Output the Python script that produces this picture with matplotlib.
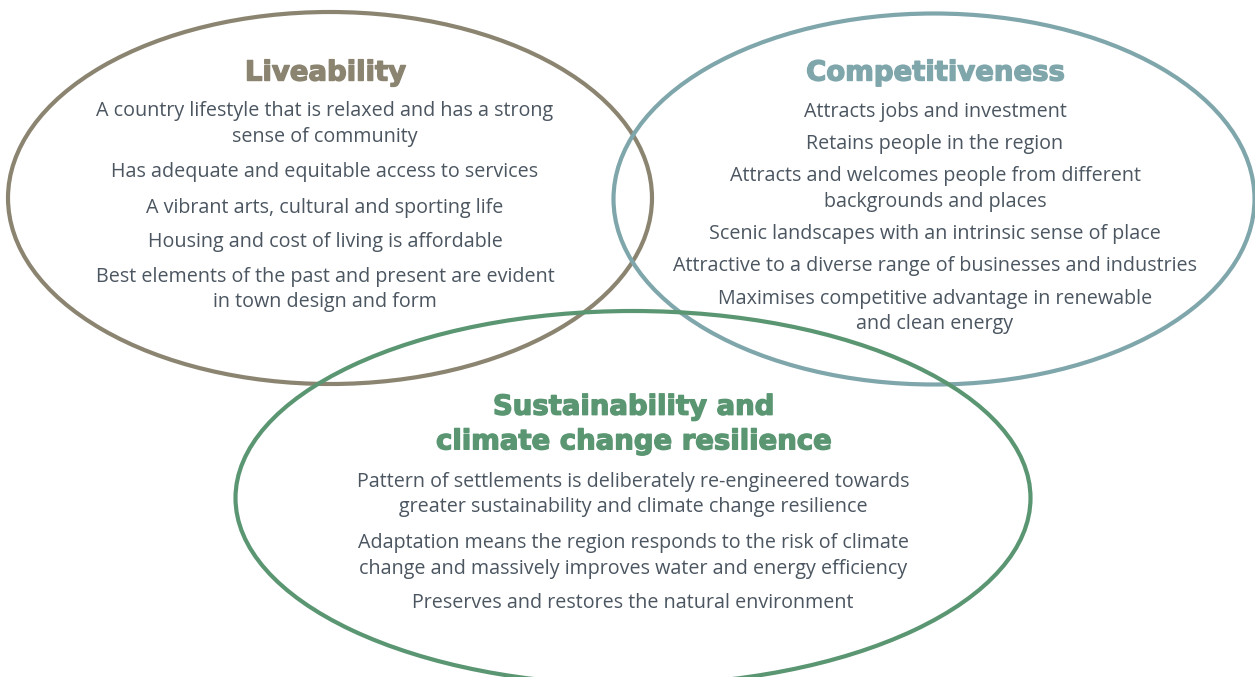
import matplotlib.pyplot as plt
import matplotlib.patheffects as pe
from matplotlib.patches import Ellipse

# Text content of the three circles
liveability_title = "Liveability"
liveability_items = [
    "A country lifestyle that is relaxed and has a strong\nsense of community",
    "Has adequate and equitable access to services",
    "A vibrant arts, cultural and sporting life",
    "Housing and cost of living is affordable",
    "Best elements of the past and present are evident\nin town design and form",
]

competitiveness_title = "Competitiveness"
competitiveness_items = [
    "Attracts jobs and investment",
    "Retains people in the region",
    "Attracts and welcomes people from different\nbackgrounds and places",
    "Scenic landscapes with an intrinsic sense of place",
    "Attractive to a diverse range of businesses and industries",
    "Maximises competitive advantage in renewable\nand clean energy",
]

sustainability_title = "Sustainability and\nclimate change resilience"
sustainability_items = [
    "Pattern of settlements is deliberately re-engineered towards\ngreater sustainability and climate change resilience",
    "Adaptation means the region responds to the risk of climate\nchange and massively improves water and energy efficiency",
    "Preserves and restores the natural environment",
]

brown = "#8b8470"
teal = "#7fa6ab"
green = "#5b9672"
body_col = "#4b5661"

fig = plt.figure(figsize=(12.55, 6.77), dpi=100)
ax = fig.add_axes([0, 0, 1, 1])
ax.set_xlim(0, 1255)
ax.set_ylim(677, 0)
ax.axis("off")

# circles: (cx, cy, w, h, colour)
for cx, cy, w, h, col in [(330, 198, 644, 372, brown),
                          (934, 199, 641, 371, teal),
                          (633, 498, 795, 374, green)]:
    ax.add_patch(Ellipse((cx, cy), w, h, fill=False, ec=col, lw=3.0))

title_kw = dict(ha="center", va="center", family="DejaVu Sans", weight="heavy",
                fontsize=19.8, linespacing=1.3)
body_kw = dict(ha="center", va="center", family="Open Sans", color=body_col,
               fontsize=14.2, linespacing=1.34)


def block(cx, title, title_y, items, ys, col):
    ax.text(cx, title_y, title, color=col,
            path_effects=[pe.withStroke(linewidth=1.0, foreground=col)], **title_kw)
    for txt, y in zip(items, ys):
        ax.text(cx, y, txt, **body_kw)


block(325, liveability_title, 72.5, liveability_items,
      [124, 172.5, 207.5, 242.5, 289.5], brown)
block(935, competitiveness_title, 72.5, competitiveness_items,
      [111.5, 143.5, 189, 234.5, 266.5, 311.5], teal)
block(633, sustainability_title, 424, sustainability_items,
      [494.5, 556, 602.5], green)

fig.savefig("out.png", dpi=100, facecolor="white")
